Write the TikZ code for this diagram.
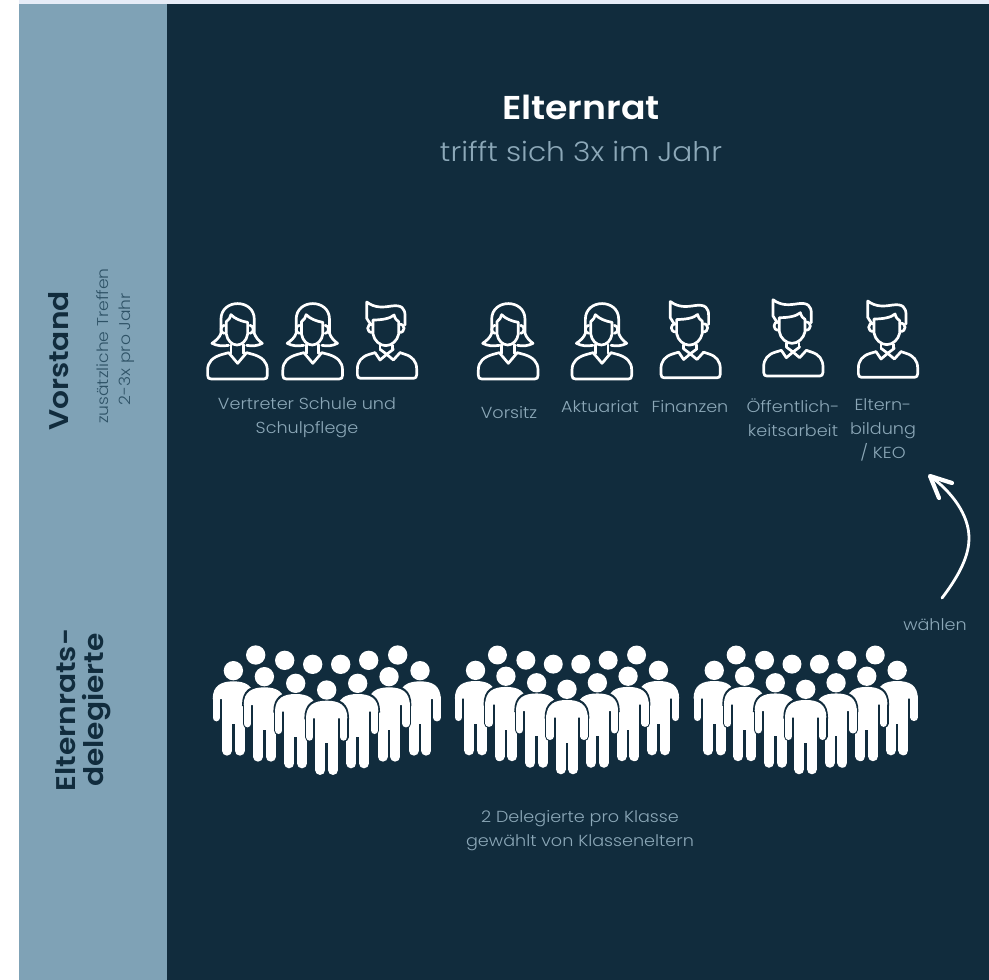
\documentclass[tikz,border=0pt]{standalone}
\usepackage{fontspec}
\setmainfont{Poppins}
\newfontfamily\lightf[FakeStretch=1.1]{Poppins Light}
\newfontfamily\headf[FakeStretch=1.1]{Poppins SemiBold}
\usetikzlibrary{arrows.meta}
\definecolor{darkbg}{HTML}{112C3D}
\definecolor{sideblue}{HTML}{7FA2B6}
\definecolor{topband}{HTML}{E6ECF7}
\definecolor{softtext}{HTML}{8CA8B8}
\definecolor{sidetext}{HTML}{2E5266}
\tikzset{
  softlabel/.style={text=softtext,font=\lightf\fontsize{16}{24}\selectfont,align=center,inner sep=0pt},
  sidehead/.style={text=darkbg,font=\headf\fontsize{27}{27}\selectfont,rotate=90,inner sep=0pt},
  sidesub/.style={text=sidetext,font=\lightf\fontsize{15.6}{15.6}\selectfont,rotate=90,inner sep=0pt},
  iconline/.style={draw=white,line width=2.7pt,line join=round,line cap=round},
  pics/woman/.style={code={
    \begin{scope}[x=0.3333pt,y=-0.3333pt]
    % body
    \draw[iconline] (-26,218) -- (-48,224) .. controls (-73,232) and (-89,245) .. (-89,270) -- (-89,286) .. controls (-89,294) and (-86,297) .. (-78,297) -- (80,297) .. controls (87,297) and (90,294) .. (90,286) -- (90,270) .. controls (90,245) and (74,232) .. (50,224) -- (28,218) -- (1,250) -- cycle;
    % hair
    \draw[iconline] (-49,160) -- (-49,118) .. controls (-49,55) and (51,55) .. (51,118) -- (51,160) .. controls (55,172) and (64,182) .. (75,190) .. controls (60,198) and (45,199) .. (28,196);
    \draw[iconline] (-49,160) .. controls (-53,172) and (-64,182) .. (-76,190) .. controls (-60,198) and (-45,199) .. (-26,196);
    % face
    \draw[iconline] (-33,125) .. controls (-26,120) and (-20,112) .. (-19,104) .. controls (-8,116) and (12,124) .. (31,127) -- (31,162) .. controls (28,182) and (14,195) .. (-1,195) .. controls (-16,195) and (-30,182) .. (-33,162) -- cycle;
    \draw[iconline] (-19,194) -- (-19,220); \draw[iconline] (19,194) -- (19,220);
    % ears
    \draw[iconline] (-39,136) .. controls (-52,136) and (-52,160) .. (-39,160);
    \draw[iconline] (38,136) .. controls (51,136) and (51,160) .. (38,160);
    \end{scope}}},
  pics/man/.style={code={
    \begin{scope}[x=0.3333pt,y=-0.3333pt]
    % body
    \draw[iconline] (-35,218) -- (-52,223) .. controls (-76,230) and (-88,245) .. (-88,268) -- (-88,284) .. controls (-88,292) and (-84,295) .. (-78,295) -- (80,295) .. controls (86,295) and (90,292) .. (90,284) -- (90,268) .. controls (90,245) and (78,230) .. (55,223) -- (40,218);
    % collar
    \draw[iconline] (-35,218) -- (-20,240) -- (0,223) -- (20,240) -- (40,218);
    \draw[iconline] (-20,208) -- (0,223) -- (20,208);
    % hair
    \draw[iconline] (-47,135) -- (-60,115) -- (-60,66) .. controls (-35,85) and (-10,82) .. (15,78) .. controls (45,74) and (55,85) .. (55,108) -- (55,135);
    % face
    \draw[iconline] (-41,120) .. controls (-15,120) and (10,116) .. (22,105) .. controls (25,116) and (30,122) .. (36,125) -- (36,162) .. controls (32,182) and (15,197) .. (-3,197) .. controls (-20,197) and (-38,182) .. (-41,162) -- cycle;
    \draw[iconline] (-20,196) -- (-20,208); \draw[iconline] (18,196) -- (18,208);
    % ears
    \draw[iconline] (-42,133) .. controls (-62,130) and (-62,160) .. (-42,157);
    \draw[iconline] (37,133) .. controls (57,130) and (57,160) .. (37,157);
    \end{scope}}},
  pics/person/.style={code={
    \begin{scope}[x=0.3333pt,y=-0.3333pt]
    % dark halo
    \filldraw[darkbg,line width=2pt] (0,28) .. controls (40,28) and (64,42) .. (64,85) -- (-64,85) .. controls (-64,42) and (-40,28) .. (0,28) -- cycle;
    \draw[darkbg,line width=9.6pt,line cap=round] (51,80) -- (51,141) (-51,80) -- (-51,141);
    \draw[darkbg,line width=12pt,line cap=round] (19,150) -- (19,240) (-19,150) -- (-19,240);
    \fill[darkbg] (-40,70) rectangle (40,165);
    % white figure
    \fill[white] (0,0) circle (29);
    \fill[white] (0,32) .. controls (36,32) and (62,44) .. (62,85) -- (-62,85) .. controls (-62,44) and (-36,32) .. (0,32) -- cycle;
    \draw[white,line width=7.4pt,line cap=round] (51,80) -- (51,141) (-51,80) -- (-51,141);
    \draw[white,line width=10pt,line cap=round] (19,150) -- (19,240) (-19,150) -- (-19,240);
    \fill[white] (-34,70) rectangle (34,160);
    \end{scope}}},
  pics/crowd/.style={code={
    \begin{scope}[x=0.3333pt,y=-0.3333pt]
    \foreach \qx/\qy in {-213/-105,-126/-89,-42/-77,42/-77,126/-89,213/-105}
      \fill[white] (\qx,\qy) circle (29);
    \foreach \qx/\qy in {-280/-58,280/-58,-187/-40,187/-40,-93/-20,93/-20,0/0}
      \pic at (\qx,\qy) {person};
    \end{scope}}}
}
\begin{document}
\begin{tikzpicture}[x=1pt,y=-1pt]
\useasboundingbox (0,0) rectangle (989,980);
\fill[white] (0,0) rectangle (989,980);
\fill[topband] (19,0) rectangle (989,4);
\fill[sideblue] (19,4) rectangle (166.5,980);
\fill[darkbg] (166.5,4) rectangle (989,980);

\node[text=white,font=\headf\fontsize{33}{33}\selectfont,inner sep=0pt] (title) at (581,107) {Elternrat};
\node[text=softtext,font=\lightf\fontsize{27}{27}\selectfont,inner sep=0pt] (subtitle) at (581,151) {trifft sich 3x im Jahr};

\node[sidehead] (vorstand) at (59,361) {Vorstand};
\node[sidesub] (treffena) at (103,346) {zusätzliche Treffen};
\node[sidesub] (treffenb) at (127,349) {2-3x pro Jahr};
\node[sidehead] (elternrats) at (66,710) {Elternrats-};
\node[sidehead] (delegierte) at (97,710) {delegierte};

\pic at (237.3,280) {woman};
\pic at (312.5,280) {woman};
\pic at (386.7,280) {man};
\pic at (508,280) {woman};
\pic at (601.7,280) {woman};
\pic at (690.3,279.5) {man};
\pic at (793,277.7) {man};
\pic at (887.7,279) {man};

\node[softlabel] (schule) at (307,418) {Vertreter Schule und\\Schulpflege};
\node[softlabel] (vorsitz) at (509,413) {Vorsitz};
\node[softlabel] (aktuariat) at (600,407) {Aktuariat};
\node[softlabel] (finanzen) at (690,407) {Finanzen};
\node[softlabel] (oeffentlich) at (793,418) {Öffentlich-\\keitsarbeit};
\node[softlabel] (bildung) at (883,430) {Eltern-\\bildung\\/ KEO};
\node[softlabel] (waehlen) at (935,625) {wählen};

\coordinate (arrowstart) at (942,598);
\coordinate (arrowtip) at (930,476);
\coordinate (barba) at (939,498);
\coordinate (barbb) at (952,483);
\draw[white,line width=2.8pt,line cap=round] (arrowstart) .. controls (965,568) and (969,550) .. (969,538) .. controls (969,515) and (952,492) .. (arrowtip);
\draw[white,line width=4.2pt,line cap=round,line join=round] (barba) -- (arrowtip) -- (barbb);

\pic at (326.7,690) {crowd};
\pic[scale=0.98] at (567,689.3) {crowd};
\pic[scale=0.98] at (805.7,689.3) {crowd};

\node[softlabel] (delegate) at (580,831) {2 Delegierte pro Klasse\\gewählt von Klasseneltern};
\end{tikzpicture}
\end{document}
